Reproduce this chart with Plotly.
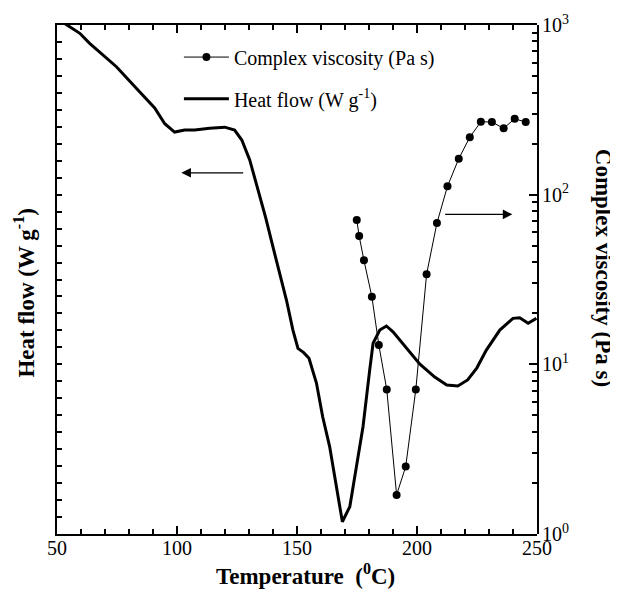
import plotly.graph_objects as go

# Complex viscosity (Pa s) vs temperature (C)
visc_T = [174.9, 175.9, 177.9, 181.2, 184.1, 187.4, 191.5, 195.3, 199.5, 204.0,
          208.3, 212.7, 217.4, 222.0, 226.6, 231.2, 236.1, 240.7, 245.3]
visc_eta = [71, 57, 41, 25, 13, 7.1, 1.7, 2.5, 7.1, 34,
            68, 112, 163, 218, 269, 268, 246, 280, 268]

# Heat flow (arbitrary offset, W/g) vs temperature (C)
hf_T = [50.0, 54.3, 59.5, 63.6, 74.75, 84.5, 90.7, 94.9, 99.0, 103.2, 107.4, 113.6,
        119.9, 124.0, 127.0, 130.3, 133.6, 137.0, 140.3, 143.2, 145.6, 148.3, 150.4,
        152.8, 155.0, 158.1, 160.7, 163.6, 166.4, 168.9, 172.0, 174.75, 177.5, 180.3,
        181.7, 184.5, 187.25, 190.0, 192.8, 197.0, 201.1, 207.4, 212.4, 217.0, 221.1,
        224.9, 228.9, 234.5, 240.0, 242.8, 246.3, 249.75]
hf_val = [0.038, -0.002, -0.049, -0.108, -0.246, -0.395, -0.489, -0.582, -0.631, -0.619,
          -0.619, -0.608, -0.602, -0.619, -0.678, -0.795, -0.961, -1.138, -1.326, -1.491,
          -1.621, -1.798, -1.906, -1.931, -1.964, -2.110, -2.309, -2.485, -2.721, -2.928,
          -2.839, -2.603, -2.368, -2.033, -1.876, -1.798, -1.774, -1.808, -1.857, -1.933,
          -1.998, -2.075, -2.122, -2.128, -2.092, -2.022, -1.916, -1.798, -1.729, -1.725,
          -1.758, -1.729]

y2_alias = {"1": "10<sup>0</sup>", "10": "10<sup>1</sup>",
            "100": "10<sup>2</sup>", "1000": "10<sup>3</sup>"}

FONT = "Liberation Serif, Times New Roman, serif"

fig = go.Figure()
fig.add_trace(go.Scatter(
    x=hf_T, y=hf_val, mode="lines", name="Heat flow (W g<sup>-1</sup>)",
    line=dict(color="black", width=3), xaxis="x", yaxis="y", legend="legend2"))
fig.add_trace(go.Scatter(
    x=visc_T, y=visc_eta, mode="lines+markers", name="Complex viscosity (Pa s)",
    line=dict(color="black", width=1), marker=dict(color="black", size=8),
    xaxis="x2", yaxis="y2", legend="legend"))
# empty trace for the label-only axes
fig.add_trace(go.Scatter(x=[None], y=[None], xaxis="x3", yaxis="y3",
                         showlegend=False, hoverinfo="skip"))

common = dict(showgrid=False, zeroline=False, automargin=False,
              tickcolor="black", tickwidth=1.5)

# page body has an 8 px margin: figure is 610x581 placed at (8, 8)
fig.update_layout(
    template="simple_white",
    width=610, height=581,
    margin=dict(l=49, r=81, t=17, b=55, autoexpand=False),
    paper_bgcolor="white", plot_bgcolor="rgba(0,0,0,0)",
    font=dict(family=FONT, size=20, color="black"),
    showlegend=True,
    # tick-mark axes (no labels)
    xaxis=dict(range=[50, 250], tickmode="linear", tick0=50, dtick=50,
               ticks="inside", ticklen=8, showticklabels=False,
               showline=True, linecolor="black", linewidth=1.5, mirror="allticks",
               domain=[0, 1], anchor="y",
               minor=dict(dtick=10, tick0=50, ticks="inside", ticklen=5,
                          tickcolor="black", tickwidth=1.5, showgrid=False),
               **common),
    yaxis=dict(range=[-3, 0], dtick=0.1, tick0=0, ticks="inside", ticklen=5,
               showticklabels=False, showline=True, linecolor="black",
               linewidth=1.5, domain=[0, 1], anchor="x", **common),
    xaxis2=dict(range=[50, 250], domain=[0, 1], anchor="y2", visible=False,
                showgrid=False, zeroline=False, automargin=False),
    yaxis2=dict(type="log", range=[0, 3], side="right", anchor="x2", domain=[0, 1],
                tickmode="linear", tick0=0, dtick=1, ticks="inside", ticklen=8,
                showticklabels=False, showline=True, linecolor="black", linewidth=1.5,
                minor=dict(dtick="D1", ticks="inside", ticklen=5,
                           tickcolor="black", tickwidth=1.5, showgrid=False),
                **common),
    # label-only axes
    xaxis3=dict(range=[50, 250], domain=[0, 1], anchor="y3", side="bottom",
                tickmode="linear", tick0=50, dtick=50, ticks="",
                showline=False, tickfont=dict(size=20), **common),
    yaxis3=dict(type="log", range=[0, 3], side="right", anchor="x3", domain=[0, 1],
                tickmode="linear", tick0=0, dtick=1, exponentformat="none",
                labelalias=y2_alias, ticks="", showline=False,
                tickfont=dict(size=20), ticklabelstandoff=4, **common),
    legend=dict(x=0.254, y=0.937, xanchor="left", yanchor="middle",
                bgcolor="rgba(0,0,0,0)", font=dict(size=20, family=FONT),
                itemwidth=45),
    legend2=dict(x=0.254, y=0.855, xanchor="left", yanchor="middle",
                 bgcolor="rgba(0,0,0,0)", font=dict(size=20, family=FONT),
                 itemwidth=45),
    annotations=[
        dict(x=101.8, y=-0.871, ax=128.2, ay=-0.871, xref="x", yref="y",
             axref="x", ayref="y", text="", showarrow=True, arrowhead=2,
             arrowsize=1.6, arrowwidth=1.2, arrowcolor="black"),
        dict(x=239.75, y=-1.116, ax=211.1, ay=-1.116, xref="x", yref="y",
             axref="x", ayref="y", text="", showarrow=True, arrowhead=2,
             arrowsize=1.6, arrowwidth=1.2, arrowcolor="black"),
        dict(x=0.517, y=-0.0786, xref="paper", yref="paper",
             text="<b>Temperature&nbsp;&nbsp;(<sup>0</sup>C)</b>",
             showarrow=False, font=dict(size=23, family=FONT),
             xanchor="center", yanchor="middle"),
        dict(x=-0.068, y=0.475, xref="paper", yref="paper",
             text="<b>Heat flow (W g<sup>-1</sup>)</b>",
             showarrow=False, textangle=-90, font=dict(size=23, family=FONT),
             xanchor="center", yanchor="middle"),
        dict(x=1.1375, y=0.523, xref="paper", yref="paper",
             text="<b>Complex viscosity (Pa s)</b>",
             showarrow=False, textangle=90, font=dict(size=23, family=FONT),
             xanchor="center", yanchor="middle"),
    ],
)

fig.write_html("out.html")
